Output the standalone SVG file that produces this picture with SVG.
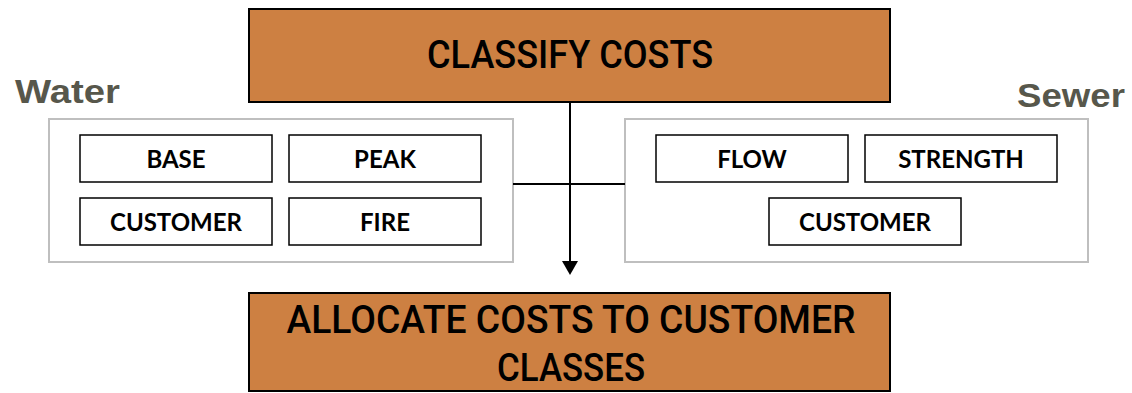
<svg xmlns="http://www.w3.org/2000/svg" width="1132" height="393" viewBox="0 0 1132 393">
<style>
.main{fill:#CD8042;stroke:#000;stroke-width:2}
.mt{font-family:Roboto,"Liberation Sans",Arial,sans-serif;font-weight:500;font-size:38px;fill:#000;text-anchor:middle}
.grp{fill:#fff;stroke:#BFBFBF;stroke-width:2}
.item{fill:#fff;stroke:#000;stroke-width:1.5}
.it{font-family:Lato,"Liberation Sans",sans-serif;font-weight:bold;font-size:24px;fill:#000;text-anchor:middle}
.lbl{font-family:"Liberation Sans",Arial,sans-serif;font-weight:bold;font-size:33px;fill:#57574B}
.conn{stroke:#000;stroke-width:2;fill:none}
</style>
<defs>
<marker id="arr" markerWidth="8" markerHeight="8" refX="1" refY="4" orient="auto" markerUnits="strokeWidth">
<path d="M0,0 L7,4 L0,8 Z" fill="#000"/>
</marker>
</defs>
<g id="water">
<text class="lbl" x="15" y="103" textLength="105" lengthAdjust="spacingAndGlyphs">Water</text>
<rect class="grp" x="49" y="119" width="464" height="143"/>
</g>
<g id="sewer">
<text class="lbl" x="1017" y="107" textLength="108" lengthAdjust="spacingAndGlyphs">Sewer</text>
<rect class="grp" x="625" y="119" width="463" height="143"/>
</g>
<g id="connectors">
<line class="conn" x1="513" y1="184" x2="625" y2="184"/>
<line class="conn" x1="570" y1="102" x2="570" y2="263" marker-end="url(#arr)"/>
</g>
<g id="classify">
<rect class="main" x="249" y="9" width="641" height="93"/>
<text class="mt" x="570" y="68" textLength="286" lengthAdjust="spacingAndGlyphs">CLASSIFY COSTS</text>
</g>
<g id="base"><rect class="item" x="80" y="135" width="192" height="47"/><text class="it" x="176" y="168">BASE</text></g>
<g id="peak"><rect class="item" x="289" y="135" width="192" height="47"/><text class="it" x="385" y="168">PEAK</text></g>
<g id="wcustomer"><rect class="item" x="80" y="198" width="192" height="47"/><text class="it" x="176" y="231">CUSTOMER</text></g>
<g id="fire"><rect class="item" x="289" y="198" width="192" height="47"/><text class="it" x="385" y="231">FIRE</text></g>
<g id="flow"><rect class="item" x="656" y="135" width="192" height="47"/><text class="it" x="752" y="168">FLOW</text></g>
<g id="strength"><rect class="item" x="865" y="135" width="192" height="47"/><text class="it" x="961" y="168">STRENGTH</text></g>
<g id="scustomer"><rect class="item" x="769" y="198" width="192" height="47"/><text class="it" x="865" y="231">CUSTOMER</text></g>
<g id="allocate">
<rect class="main" x="249" y="293" width="641" height="98"/>
<text class="mt" x="571" y="333" textLength="569" lengthAdjust="spacingAndGlyphs">ALLOCATE COSTS TO CUSTOMER</text>
<text class="mt" x="571" y="381" textLength="148" lengthAdjust="spacingAndGlyphs">CLASSES</text>
</g>
</svg>
